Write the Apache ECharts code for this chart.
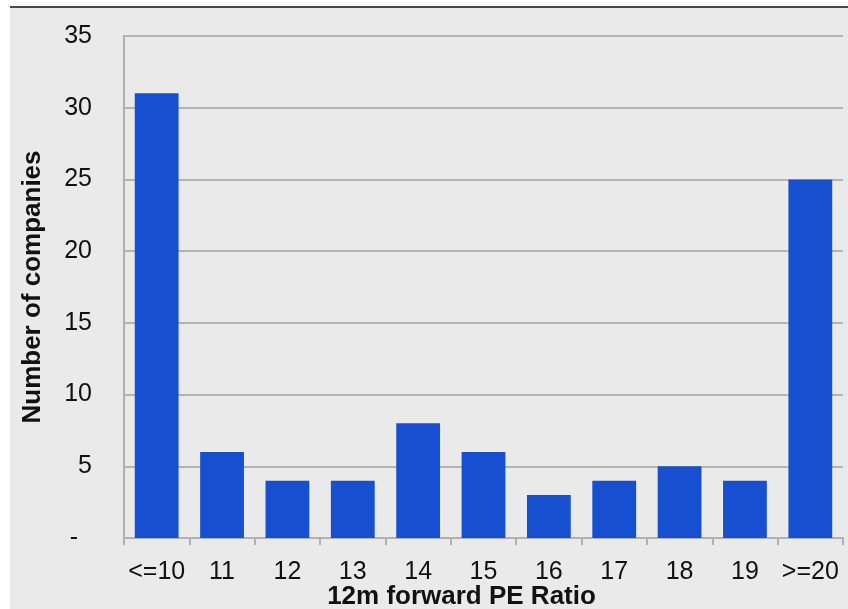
<!DOCTYPE html>
<html>
<head>
<meta charset="utf-8">
<script src="https://cdn.jsdelivr.net/npm/echarts@6/dist/echarts.min.js"></script>
<style>
html,body{margin:0;padding:0;background:#fff;}
#chart{width:848px;height:609px;}
</style>
</head>
<body>
<div id="chart"></div>
<script>
var categories = ['<=10', '11', '12', '13', '14', '15', '16', '17', '18', '19', '>=20'];
var companies = [31, 6, 4, 4, 8, 6, 3, 4, 5, 4, 25];
var yTicks = [0, 5, 10, 15, 20, 25, 30, 35];

var chart = echarts.init(document.getElementById('chart'), null, {renderer: 'canvas'});
chart.setOption({
  backgroundColor: '#ffffff',
  animation: false,
  graphic: [
    {type: 'rect', z: -100, shape: {x: 10, y: 8, width: 838, height: 601}, style: {fill: '#eaeaea'}},
    {type: 'rect', z: -99, shape: {x: 10, y: 6, width: 838, height: 2}, style: {fill: '#4a4a4a'}}
  ],
  grid: {left: 124, right: 5, top: 36, bottom: 71, containLabel: false, outerBoundsMode: 'none'},
  xAxis: {
    type: 'category',
    data: categories,
    name: '12m forward PE Ratio',
    nameLocation: 'middle',
    nameGap: 46,
    nameMoveOverlap: false,
    nameTextStyle: {fontFamily: 'Liberation Sans, Arial, sans-serif', fontSize: 26, fontWeight: 'bold', color: '#111', verticalAlign: 'top', padding: [0, 44, 0, 0]},
    axisLine: {lineStyle: {color: '#b0b0b0', width: 2}},
    axisTick: {show: true, length: 7, lineStyle: {color: '#b0b0b0', width: 2}},
    axisLabel: {fontFamily: 'Liberation Sans, Arial, sans-serif', fontSize: 25, color: '#111', margin: 22, interval: 0}
  },
  yAxis: {
    type: 'value',
    min: 0,
    max: 35,
    interval: 5,
    name: 'Number of companies',
    nameLocation: 'middle',
    nameGap: 78,
    nameRotate: 90,
    nameMoveOverlap: false,
    nameTextStyle: {fontFamily: 'Liberation Sans, Arial, sans-serif', fontSize: 26, fontWeight: 'bold', color: '#111'},
    axisLine: {show: true, lineStyle: {color: '#b0b0b0', width: 2}},
    axisTick: {show: false},
    splitLine: {lineStyle: {color: '#b4b4b4', width: 2}},
    axisLabel: {
      fontFamily: 'Liberation Sans, Arial, sans-serif', fontSize: 25, color: '#111', margin: 32,
      formatter: function (v) { return yTicks.indexOf(v) === 0 ? '-  ' : String(v); }
    }
  },
  series: [{
    type: 'bar',
    data: companies,
    barCategoryGap: '33%',
    itemStyle: {color: '#1650d1'}
  }]
});
</script>
</body>
</html>
